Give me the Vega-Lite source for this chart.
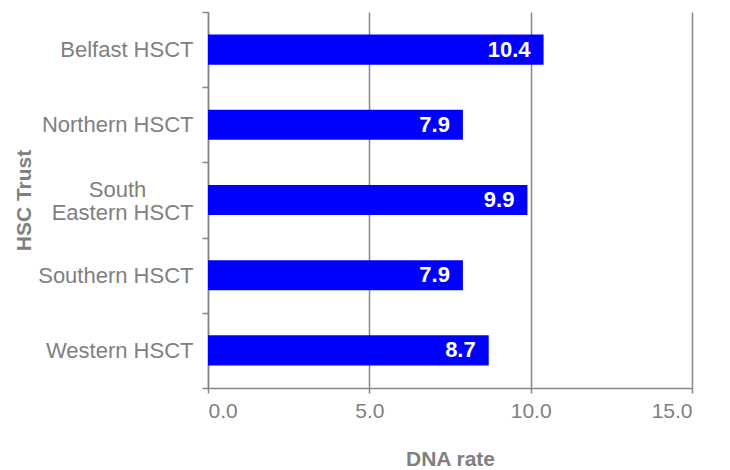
{
  "$schema": "https://vega.github.io/schema/vega-lite/v6.json",
  "width": 484,
  "height": 376,
  "autosize": {"type": "none"},
  "padding": {"left": 208, "top": 12, "right": 38, "bottom": 82},
  "background": "white",
  "data": {
    "values": [
      {"trust": "Belfast HSCT", "rate": 10.4},
      {"trust": "Northern HSCT", "rate": 7.9},
      {"trust": "South Eastern HSCT", "rate": 9.9},
      {"trust": "Southern HSCT", "rate": 7.9},
      {"trust": "Western HSCT", "rate": 8.7}
    ]
  },
  "config": {
    "view": {"stroke": null},
    "font": "Liberation Sans",
    "axis": {
      "labelFont": "Liberation Sans",
      "titleFont": "Liberation Sans",
      "labelColor": "#808080",
      "titleColor": "#808080",
      "domainColor": "#868686",
      "tickColor": "#868686",
      "gridColor": "#868686",
      "domainWidth": 1.5,
      "tickWidth": 1.5,
      "gridWidth": 1.5
    }
  },
  "encoding": {
    "y": {
      "field": "trust",
      "type": "nominal",
      "sort": null,
      "scale": {"paddingInner": 0, "paddingOuter": 0},
      "axis": {
        "title": "HSC Trust",
        "titleFontSize": 21,
        "titleFontWeight": "bold",
        "titlePadding": 3,
        "labelFontSize": 22,
        "labelPadding": 9,
        "labelLineHeight": 23,
        "labelOffset": {"condition": {"test": "datum.value == 'South Eastern HSCT'", "value": -11}, "value": 0},
        "labelExpr": "datum.label == 'South Eastern HSCT' ? ['South\u00a0\u00a0\u00a0\u00a0\u00a0\u00a0\u00a0\u2009\u200b', 'Eastern HSCT'] : datum.label",
        "tickBand": "extent",
        "tickSize": 6,
        "grid": false,
        "domain": true
      }
    }
  },
  "layer": [
    {
      "mark": {"type": "bar", "color": "#0000FF", "height": {"band": 0.4}},
      "encoding": {
        "x": {
          "field": "rate",
          "type": "quantitative",
          "scale": {"domain": [0, 15], "nice": false},
          "axis": {
            "title": "DNA rate",
            "titleFontSize": 21,
            "titleFontWeight": "bold",
            "titlePadding": 27,
            "values": [0, 5, 10, 15],
            "format": ".1f",
            "labelFontSize": 21,
            "labelPadding": 7,
            "tickSize": 5,
            "grid": true
          }
        }
      }
    },
    {
      "mark": {"type": "text", "align": "right", "dx": -13, "color": "white", "fontWeight": "bold", "fontSize": 22, "font": "Liberation Sans"},
      "encoding": {
        "x": {"field": "rate", "type": "quantitative"},
        "text": {"field": "rate", "type": "quantitative", "format": ".1f"}
      }
    }
  ]
}
